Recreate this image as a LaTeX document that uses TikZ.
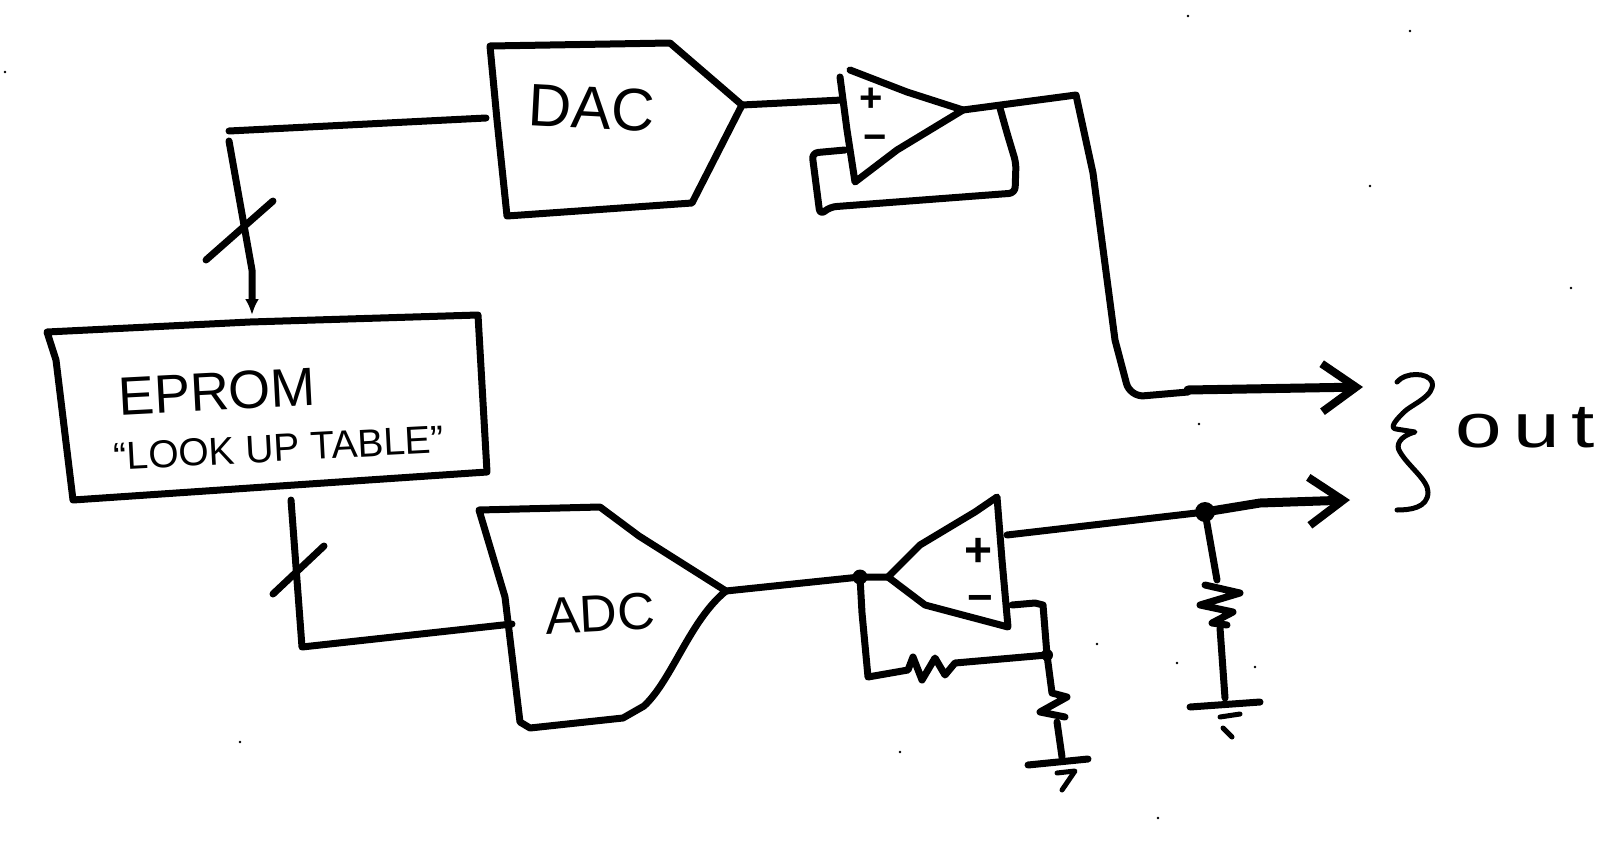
\documentclass[tikz,border=0pt]{standalone}
\usepackage{fontspec}
\setmainfont{Liberation Sans}
\newfontfamily\outfont[LetterSpace=14]{Liberation Sans}
\usetikzlibrary{arrows.meta}
\tikzset{
  wire/.style={line width=7pt},
  heavy/.style={line width=9pt},
  thin wire/.style={line width=5pt},
  label/.style={inner sep=0pt, font=\fontsize{#1}{#1}\selectfont},
  sign/.style={inner sep=0pt, font=\fontsize{#1}{#1}\selectfont\bfseries},
  out arrow/.style={heavy, -{Straight Barb[length=34pt,width=48pt,line width=8pt]}},
  dotj/.style={circle, fill=black, inner sep=0pt, minimum size=#1},
}
\begin{document}
\begin{tikzpicture}[x=1pt, y=-1pt, line cap=round, line join=round]
    \useasboundingbox (0,0) rectangle (1615,849);
    % specks of dirt
    \foreach \px/\py in {5/72,1188/16,1410/31,1370/186,1571/288,1199/424,1177/663,1255/667,1097/644,900/752,240/742,1158/818}
      \fill (\px,\py) circle (1.4pt);
    % blocks
    \draw[wire] (47,332) -- (56,360) -- (73,500) -- (250,488) -- (487,472) -- (478,315) -- (250,322) -- cycle;
    \node[label=54, rotate=3] (eprom) at (217,392) {EPROM};
    \node[label=39, rotate=3] (table) at (279,448) {“LOOK UP TABLE”};
    \draw[wire] (490,46) -- (497,120) -- (507,216) -- (692,203) -- (742,105) -- (670,43) -- cycle;
    \node[label=60, rotate=-3] (dac) at (592,108) {DAC};
    \draw[wire] (479,510) -- (505,597) -- (520,722) -- (530,728) -- (623,718) -- (644,706)
      .. controls (672,680) and (690,620) .. (726,591) -- (639,536) -- (600,507) -- cycle;
    \node[label=52, rotate=3] (adc) at (600,614) {ADC};
    % top opamp
    \draw[wire] (840,77) -- (847,130) -- (855,182) -- (897,150) -- (963,110) -- (907,92) -- (850,70);
    \node[sign=40] (plusa) at (871,100) {+};
    \node[sign=40] (minusa) at (875,143) {−};
    % bottom opamp
    \draw[wire] (888,577) -- (925,605) -- (1008,627) -- (1002,560) -- (997,497) -- (975,512) -- (920,545) -- cycle;
    \node[sign=48] (plusb) at (979,552) {+};
    \node[sign=44] (minusb) at (980,604) {−};
    % named points
    \coordinate (dacin) at (486,118);
    \coordinate (dacout) at (742,105);
    \coordinate (ampin) at (842,100);
    \coordinate (ampout) at (963,110);
    \coordinate (corner) at (1076,95);
    \coordinate (fbstart) at (1000,108);
    \coordinate (fbend) at (845,150);
    \coordinate (tipa) at (1363,387);
    \coordinate (tipb) at (1350,500);
    \coordinate (romtop) at (252,315);
    \coordinate (rombot) at (291,500);
    \coordinate (adcin) at (512,624);
    \coordinate (adcout) at (726,591);
    \coordinate (ampinb) at (860,577);
    \coordinate (apexb) at (888,577);
    \coordinate (ampoutb) at (1007,535);
    \coordinate (jnb) at (1205,512);
    \coordinate (minusin) at (1012,605);
    \coordinate (jna) at (1047,655);
    % eprom to dac
    \draw[wire] (dacin) -- (229,131);
    \draw[wire, -{Latex[length=16pt,width=14pt]}] (229,141) -- (252,270) -- (romtop);
    \draw[wire] (206,260) -- (273,201);
    % eprom to adc
    \draw[wire] (rombot) -- (302,647) -- (adcin);
    \draw[wire] (273,594) -- (324,546);
    % dac to amp to output
    \draw[wire] (dacout) -- (ampin);
    \draw[wire] (ampout) -- (corner) -- (1093,173) -- (1115,340) [rounded corners=14pt] -- (1130,397) -- (1188,392);
    \draw[out arrow] (1188,390) -- (tipa);
    \draw[wire, rounded corners=6pt] (fbstart) -- (1007,133) -- (1016,163) -- (1015,193) -- (830,207) -- (820,215) -- (812,153) -- (fbend);
    % adc to amp to output
    \draw[wire] (adcout) -- (ampinb) -- (apexb);
    \draw[wire] (ampoutb) -- (jnb);
    \draw[out arrow] (jnb) -- (1260,503) -- (tipb);
    \node[dotj=20pt] (dotb) at (jnb) {};
    \node[dotj=15pt] (dotc) at (ampinb) {};
    \node[dotj=12pt] (dotd) at (jna) {};
    % feedback
    \draw[wire] (ampinb) -- (862,613) -- (868,677) -- (908,670) -- (913,657) -- (922,680) -- (935,658) -- (945,675) -- (955,663) -- (jna);
    \draw[wire] (minusin) -- (1035,603) -- (1043,605) -- (jna);
    \draw[wire] (jna) -- (1052,693) -- (1067,697) -- (1040,712) -- (1065,717);
    \draw[wire] (1057,722) -- (1062,757);
    \draw[wire] (1028,765) -- (1088,759);
    \draw[thin wire] (1057,773) -- (1075,771) -- (1062,790);
    % load
    \draw[wire] (jnb) -- (1217,580);
    \draw[wire] (1205,585) -- (1240,593) -- (1200,605) -- (1233,612) -- (1212,623) -- (1227,625);
    \draw[wire] (1220,628) -- (1225,698);
    \draw[wire] (1190,707) -- (1260,702);
    \draw[thin wire] (1220,717) -- (1240,714);
    \draw[thin wire] (1223,728) -- (1232,737);
    % brace and label
    \draw[thin wire] (1397,382) .. controls (1405,372) and (1428,372) .. (1432,382)
      .. controls (1436,396) and (1410,405) .. (1403,413)
      .. controls (1394,422) and (1390,428) .. (1396,429) -- (1415,432)
      .. controls (1400,436) and (1395,445) .. (1400,452)
      .. controls (1408,466) and (1428,480) .. (1428,492)
      .. controls (1428,508) and (1410,510) .. (1397,510);
    \node[inner sep=0pt, anchor=base, xscale=1.35, font=\fontsize{62}{62}\selectfont\outfont] (out) at (1525,447) {out};
\end{tikzpicture}
\end{document}
